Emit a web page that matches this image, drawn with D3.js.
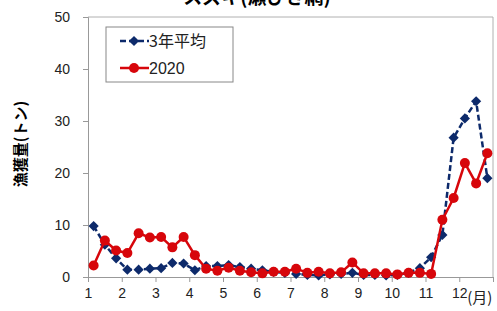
<!DOCTYPE html>
<head>
<meta charset="utf-8">
<title>スズキ</title>
<style>
  body { margin: 0; background: #fff; }
  text { font-family: "Liberation Sans", Arial, "Noto Sans CJK JP", sans-serif; }
  .jp { font-family: "Noto Sans CJK JP", sans-serif; }
</style>
</head>
<body>
<svg width="497" height="311"></svg>
<script src="https://cdn.jsdelivr.net/npm/d3@7"></script>
<script>
    // 旬別 (上旬・中旬・下旬) の漁獲量
    var months = [1, 2, 3, 4, 5, 6, 7, 8, 9, 10, 11, 12];
    var yTicks = [0, 10, 20, 30, 40, 50];
    var avg3 = [9.8, 6.2, 3.6, 1.4, 1.4, 1.6, 1.7, 2.7, 2.6, 1.3, 2.1, 2.1,
                2.3, 1.9, 1.6, 1.3, 1.0, 0.8, 0.6, 0.4, 0.3, 0.5, 0.6, 0.8,
                0.4, 0.4, 0.3, 0.4, 0.8, 1.7, 3.8, 8.1, 26.8, 30.5, 33.8, 19.0];
    var y2020 = [2.2, 7.0, 5.1, 4.6, 8.4, 7.6, 7.7, 5.7, 7.7, 4.2, 1.6, 1.2,
                 1.8, 1.2, 0.9, 0.7, 1.0, 1.0, 1.6, 0.8, 1.0, 0.7, 0.9, 2.8,
                 0.7, 0.7, 0.7, 0.5, 0.8, 0.8, 0.6, 11.0, 15.2, 21.9, 18.0, 23.8];

    var svg = d3.select("svg");

    var x = d3.scaleLinear().domain([1, 13]).range([88, 493]);
    var y = d3.scaleLinear().domain([0, 50]).range([277, 17]);

    var blue = "#0d2a6b", red = "#d7060b";

    function px(d, i) { return x(1 + (i + 0.5) / 3); }

    // plot frame
    svg.append("path")
        .attr("d", "M" + x(1) + "," + y(50) + "H" + x(13) + "V" + y(0))
        .attr("fill", "none").attr("stroke", "#b0b0b0");

    // y axis
    var ya = svg.append("g")
        .attr("transform", "translate(" + x(1) + ",0)")
        .call(d3.axisLeft(y).tickValues(yTicks).tickSize(5).tickPadding(13));
    ya.select(".domain").attr("stroke", "#999");
    ya.selectAll(".tick line").attr("stroke", "#999");
    ya.selectAll("text").attr("font-size", 14).attr("fill", "#222")
        .attr("font-family", "Liberation Sans, Arial, sans-serif");

    // x axis
    var xa = svg.append("g")
        .attr("transform", "translate(0," + y(0) + ")")
        .call(d3.axisBottom(x).tickValues(months.concat([13])).tickSize(5).tickPadding(6)
            .tickFormat(function(d) { return d <= 12 ? d : ""; }));
    xa.select(".domain").attr("stroke", "#999");
    xa.selectAll(".tick line").attr("stroke", "#999");
    xa.selectAll("text").attr("font-size", 14).attr("fill", "#222")
        .attr("font-family", "Liberation Sans, Arial, sans-serif");

    svg.append("text")
        .attr("class", "jp")
        .attr("x", x(12) + 8).attr("y", 303)
        .attr("font-size", 15).attr("fill", "#222")
        .text("(月)");

    // title (上端で切れている)
    svg.append("text")
        .attr("class", "jp")
        .attr("x", 257).attr("y", 4)
        .attr("text-anchor", "middle")
        .attr("font-size", 19).attr("font-weight", "bold")
        .text("スズキ(瀬びき網)");

    // y axis title
    svg.append("text")
        .attr("class", "jp")
        .attr("transform", "translate(26,144) rotate(-90)")
        .attr("text-anchor", "middle")
        .attr("font-size", 15).attr("font-weight", "bold")
        .text("漁獲量(トン)");

    // 3年平均
    svg.append("path")
        .datum(avg3)
        .attr("fill", "none").attr("stroke", blue)
        .attr("stroke-width", 2.5).attr("stroke-dasharray", "6,3")
        .attr("d", d3.line().x(px).y(function(d) { return y(d); }));

    var diamond = d3.symbol().type(d3.symbolSquare).size(52);

    svg.append("g").selectAll("path")
        .data(avg3)
        .enter().append("path")
            .attr("d", diamond)
            .attr("transform", function(d, i) { return "translate(" + px(d, i) + "," + y(d) + ") rotate(45)"; })
            .attr("fill", blue);

    // 2020
    svg.append("path")
        .datum(y2020)
        .attr("fill", "none").attr("stroke", red)
        .attr("stroke-width", 2.5)
        .attr("d", d3.line().x(px).y(function(d) { return y(d); }));

    svg.append("g").selectAll("circle")
        .data(y2020)
        .enter().append("circle")
            .attr("cx", px)
            .attr("cy", function(d) { return y(d); })
            .attr("r", 5)
            .attr("fill", red);

    // legend
    var lg = svg.append("g");
    lg.append("rect")
        .attr("x", 106).attr("y", 27).attr("width", 127).attr("height", 55)
        .attr("fill", "#fff").attr("stroke", "#888");
    lg.append("line")
        .attr("x1", 120).attr("x2", 149).attr("y1", 41).attr("y2", 41)
        .attr("stroke", blue).attr("stroke-width", 2.5).attr("stroke-dasharray", "6,3");
    lg.append("path")
        .attr("d", diamond)
        .attr("transform", "translate(134,41) rotate(45)")
        .attr("fill", blue);
    lg.append("line")
        .attr("x1", 120).attr("x2", 149).attr("y1", 68).attr("y2", 68)
        .attr("stroke", red).attr("stroke-width", 2.5);
    lg.append("circle")
        .attr("cx", 134).attr("cy", 68).attr("r", 5).attr("fill", red);
    lg.append("text").attr("class", "jp")
        .attr("x", 149).attr("y", 47).attr("font-size", 16).attr("fill", "#222")
        .text("3年平均");
    lg.append("text")
        .attr("x", 149).attr("y", 74).attr("font-size", 16).attr("fill", "#222")
        .text("2020");
</script>
</body>
